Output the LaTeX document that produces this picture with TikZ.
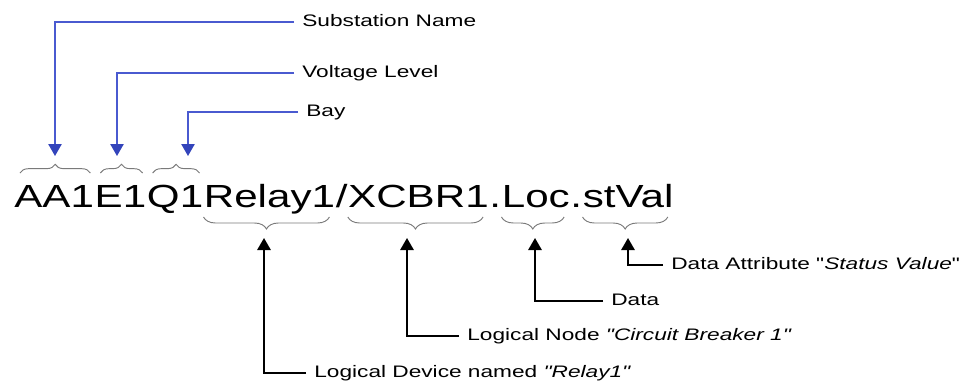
\documentclass[tikz,border=0pt]{standalone}
\usepackage{fontspec}
\setmainfont{Liberation Sans}
\usetikzlibrary{arrows.meta,calc,positioning,decorations.pathreplacing}
\definecolor{feedline}{HTML}{4A5AD0}
\definecolor{feedhead}{HTML}{3344BB}
\definecolor{bracegray}{HTML}{7A7A7A}
\tikzset{>=Latex,
  every node/.style={font=\fontsize{12.5}{15}\selectfont},
  part/.style={font=\fontsize{24}{28}\selectfont,inner sep=0pt,xscale=1.317,anchor=base west},
  tag/.style={inner xsep=4.4pt,inner ysep=0pt,text height=.72em,text depth=0pt,xscale=1.36,anchor=west},
  feed/.style={draw=feedline,line width=1.1pt,-{Triangle[length=9pt,width=10pt,color=feedhead]}},
  pick/.style={draw=black,line width=1.4pt,-{Triangle[length=9pt,width=10pt]}},
  brcup/.style={draw=bracegray,line width=.7pt,decorate,decoration={brace,amplitude=6.5pt}},
  brcdown/.style={draw=bracegray,line width=.7pt,decorate,decoration={brace,mirror,amplitude=9pt}}}

\begin{document}
\begin{tikzpicture}[x=7.5pt,y=-7.5pt]
\useasboundingbox (0,0) rectangle (96.5,38.3);
% the object reference, one node per part
\node[part] (aa) at (1.4,20.7) {AA1};
\node[part] (eone) at (aa.base east) {E1};
\node[part] (qone) at (eone.base east) {Q1};
\node[part] (relay) at (qone.base east) {Relay1};
\node[part] (slash) at (relay.base east) {/};
\node[part] (xcbr) at (slash.base east) {XCBR1};
\node[part] (dotA) at (xcbr.base east) {.};
\node[part] (loc) at (dotA.base east) {Loc};
\node[part] (dotB) at (loc.base east) {.};
\node[part] (stval) at (dotB.base east) {stVal};
\coordinate (topline) at (0,17.3);
\coordinate (botline) at (0,21.7);
\foreach \n in {aa,eone,qone}
  \draw[brcup] ($(\n.west |- topline)+(.6,0)$) -- ($(\n.east |- topline)+(-.4,0)$);
\foreach \n in {relay,xcbr,loc,stval}
  \draw[brcdown] (\n.west |- botline) -- ($(\n.east |- botline)+(-.6,0)$);
% names above
\node[tag] (subst) at (29.4,2.2) {Substation Name};
\node[tag] (volt) at (29.4,7.3) {Voltage Level};
\node[tag] (bay) at (29.8,11.2) {Bay};
\coordinate (tipSub) at (5.5,15.6);
\coordinate (tipVolt) at (11.7,15.6);
\coordinate (tipBay) at (18.8,15.6);
\draw[feed] (subst.west) -| (tipSub);
\draw[feed] (volt.west) -| (tipVolt);
\draw[feed] (bay.west) -| (tipBay);
% names below
\node[tag] (attr) at (66.3,26.5) {Data Attribute \textquotedbl\textit{Status Value}\textquotedbl};
\node[tag] (data) at (60.3,30.1) {Data};
\node[tag] (lnode) at (45.9,33.6) {Logical Node \textit{\textquotedbl Circuit Breaker 1\textquotedbl}};
\node[tag] (ldev) at (30.6,37.3) {Logical Device named \textit{\textquotedbl Relay1\textquotedbl}};
\coordinate (tipDev) at (26.4,23.8);
\coordinate (tipNode) at (40.7,23.8);
\coordinate (tipData) at (53.5,23.8);
\coordinate (tipAttr) at (62.8,23.8);
\draw[pick] (ldev.west) -| (tipDev);
\draw[pick] (lnode.west) -| (tipNode);
\draw[pick] (data.west) -| (tipData);
\draw[pick] (attr.west) -| (tipAttr);
\end{tikzpicture}
\end{document}
